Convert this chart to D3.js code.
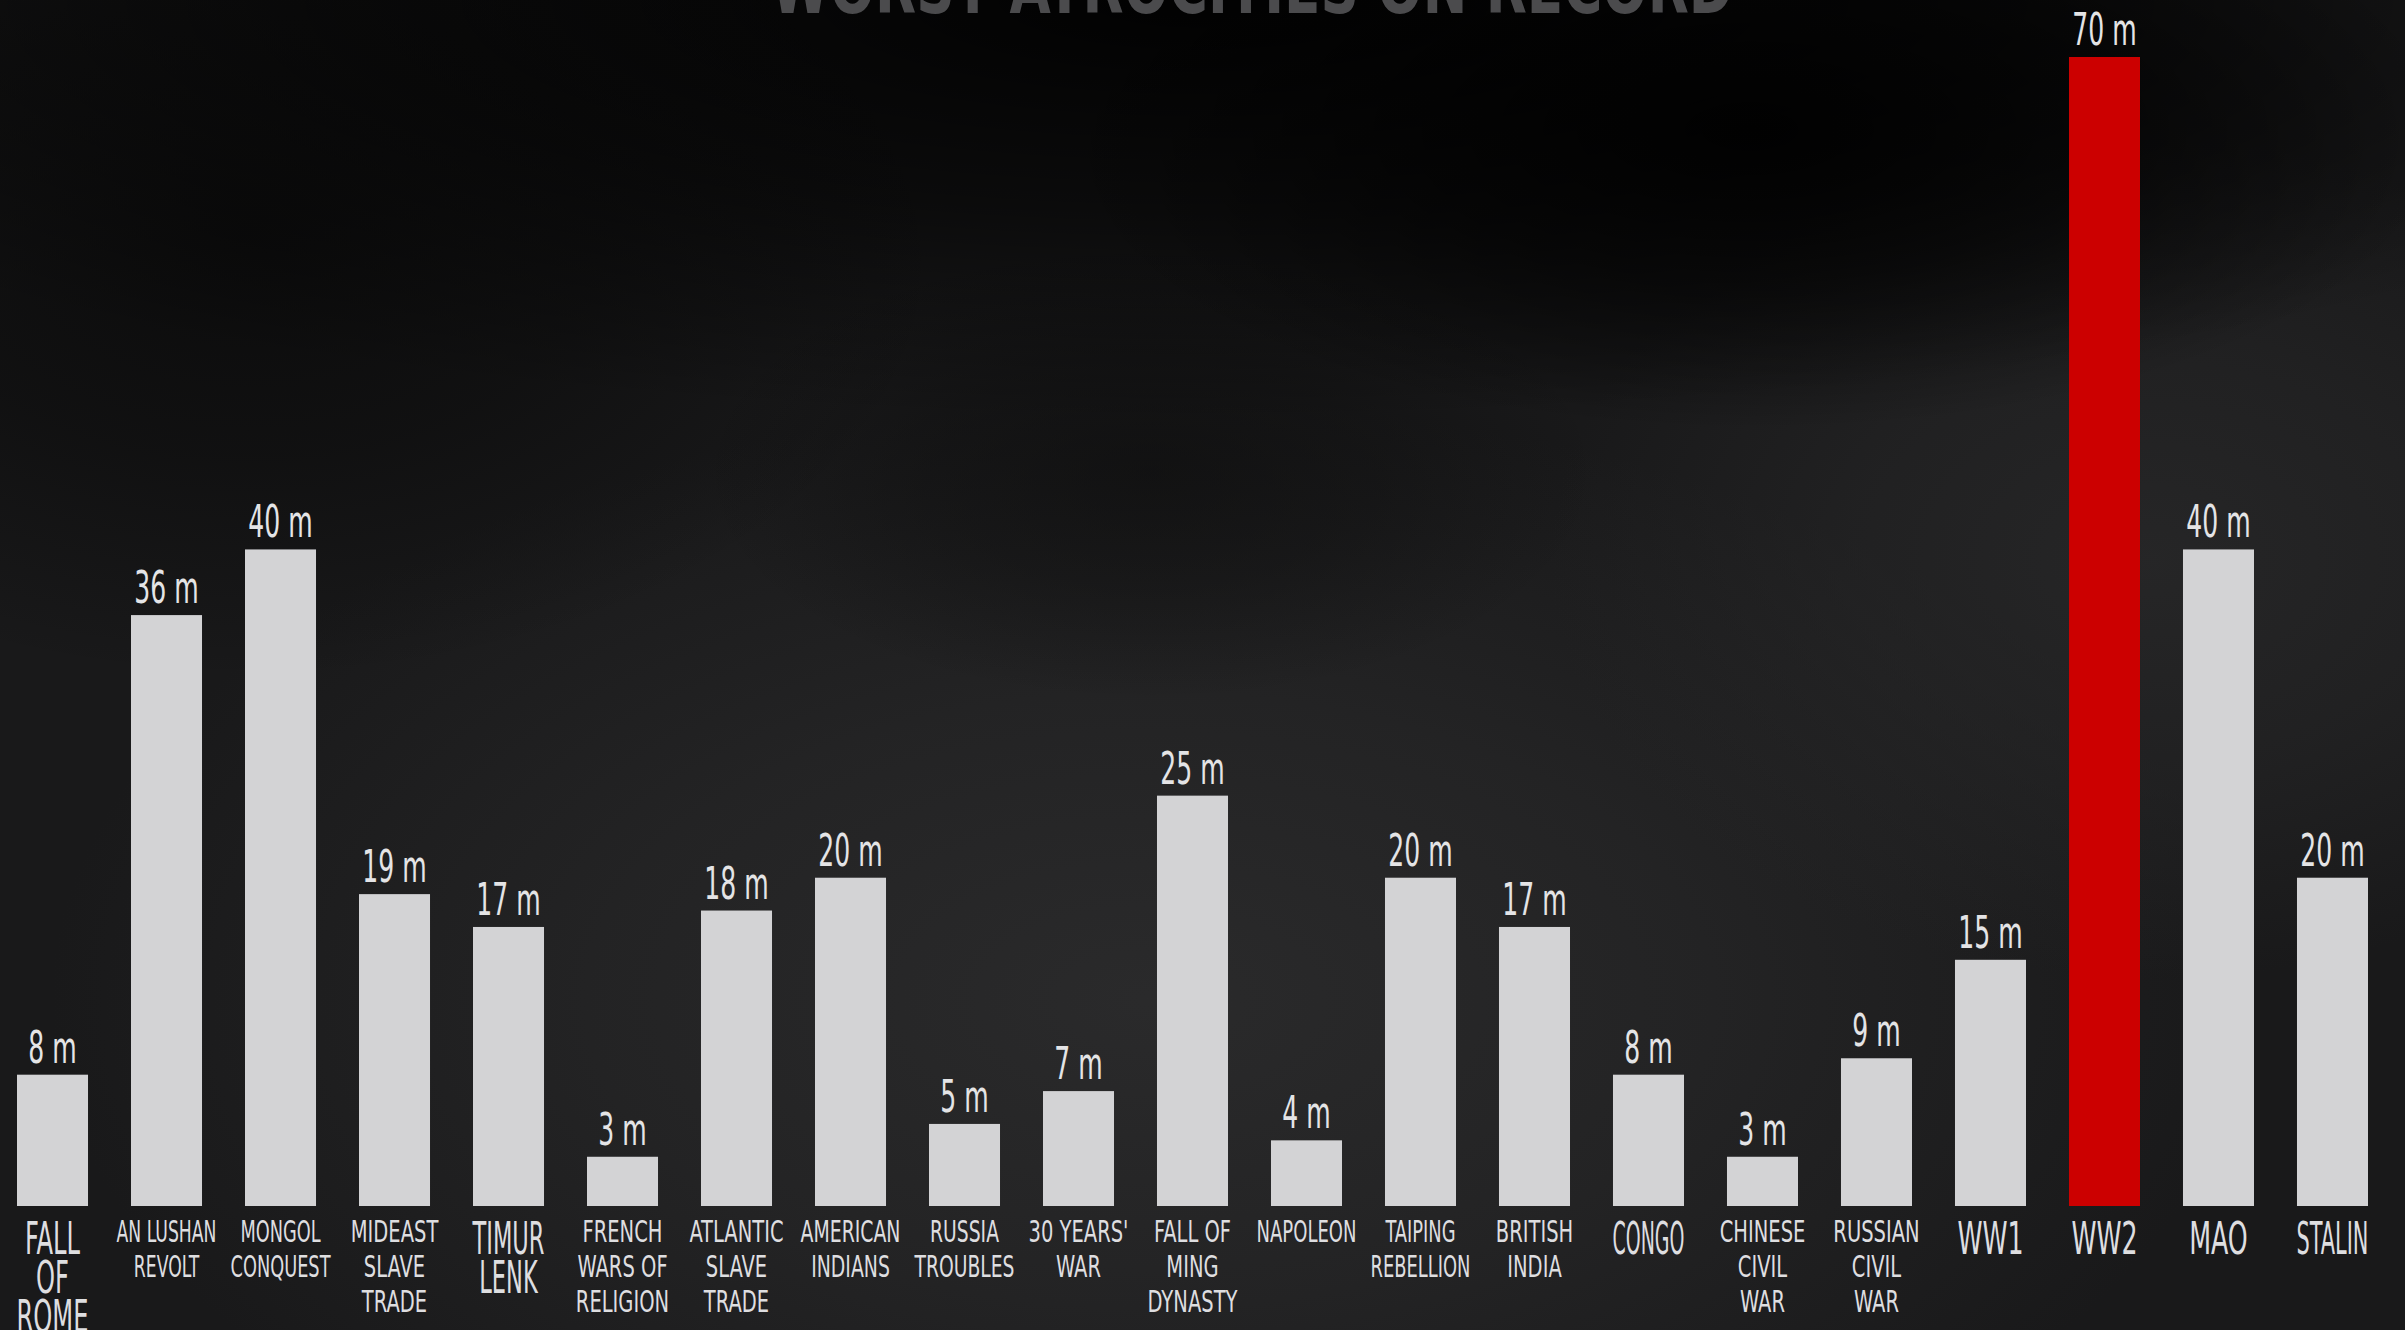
<!DOCTYPE html>
<html>
<head>
<meta charset="utf-8">
<script src="https://cdn.jsdelivr.net/npm/d3@7"></script>
<style>
  html, body { margin: 0; padding: 0; background: #050507; overflow: hidden; }
  svg { display: block; }
</style>
</head>
<body>
<div id="app"></div>
<script>
// chart data
const categories = [
    ["FALL", "OF", "ROME"],
    ["AN LUSHAN", "REVOLT"],
    ["MONGOL", "CONQUEST"],
    ["MIDEAST", "SLAVE", "TRADE"],
    ["TIMUR", "LENK"],
    ["FRENCH", "WARS OF", "RELIGION"],
    ["ATLANTIC", "SLAVE", "TRADE"],
    ["AMERICAN", "INDIANS"],
    ["RUSSIA", "TROUBLES"],
    ["30 YEARS'", "WAR"],
    ["FALL OF", "MING", "DYNASTY"],
    ["NAPOLEON"],
    ["TAIPING", "REBELLION"],
    ["BRITISH", "INDIA"],
    ["CONGO"],
    ["CHINESE", "CIVIL", "WAR"],
    ["RUSSIAN", "CIVIL", "WAR"],
    ["WW1"],
    ["WW2"],
    ["MAO"],
    ["STALIN"]
];
const deaths = [8, 36, 40, 19, 17, 3, 18, 20, 5, 7, 25, 4, 20, 17, 8, 3, 9, 15, 70, 40, 20];
const highlighted = ["WW2"];
const unitSuffix = " m";
const title = "WORST ATROCITIES ON RECORD";

function plotChart() {
    const svgWidth = 2405;
    const svgHeight = 1330;
    const fontFamily = "'DejaVu Sans Condensed', 'Liberation Sans Narrow', sans-serif";

    const svg = d3.select("#app").append("svg")
        .attr("width", svgWidth)
        .attr("height", svgHeight);

    const defs = svg.append("defs");
    let blobId = 0;

    // soft ellipse that fades out to its edge
    function blob(cx, cy, rx, ry, color, opacity) {
        const id = "blob" + (blobId++);
        const grad = defs.append("radialGradient").attr("id", id);
        grad.append("stop").attr("offset", "0%").attr("stop-color", color).attr("stop-opacity", opacity);
        grad.append("stop").attr("offset", "50%").attr("stop-color", color).attr("stop-opacity", opacity * 0.6);
        grad.append("stop").attr("offset", "100%").attr("stop-color", color).attr("stop-opacity", 0);
        svg.append("ellipse")
            .attr("cx", cx).attr("cy", cy).attr("rx", rx).attr("ry", ry)
            .attr("fill", "url(#" + id + ")");
    }

    // background: dark grey board, black towards the top
    svg.append("rect").attr("width", svgWidth).attr("height", svgHeight).attr("fill", "#19191a");
    blob(1150, 1000, 1100, 600, "#2c2c2d", 0.9);
    blob(2150, 560, 600, 420, "#29292a", 0.8);
    blob(1200, 0, 1700, 420, "#000000", 0.95);
    blob(1750, 130, 700, 300, "#000000", 0.9);
    blob(250, 230, 700, 450, "#050505", 0.7);
    blob(1150, 470, 450, 230, "#080808", 0.5);

    // title, cut off at the top edge
    svg.append("text")
        .attr("x", 1252)
        .attr("y", 13)
        .attr("text-anchor", "middle")
        .attr("font-family", fontFamily)
        .attr("font-weight", "bold")
        .attr("font-size", 74)
        .attr("fill", "#4b4b4d")
        .attr("textLength", 962)
        .attr("lengthAdjust", "spacingAndGlyphs")
        .text(title);

    const names = categories.map(d => d.join(" "));

    const xScale = d3.scaleBand()
        .domain(names)
        .range([17, 2368])
        .paddingInner(0.377)
        .paddingOuter(0);

    const yScale = d3.scaleLinear()
        .domain([0, 70])
        .range([1206, 57]);

    const chart = svg.append("g").classed("display", true);

    chart.selectAll(".bar")
        .data(deaths)
        .enter()
            .append("rect")
            .classed("bar", true)
            .attr("x", (d, i) => xScale(names[i]))
            .attr("y", d => yScale(d))
            .attr("width", xScale.bandwidth())
            .attr("height", d => yScale(0) - yScale(d))
            .attr("fill", (d, i) => highlighted.includes(names[i]) ? "#cc0000" : "#d3d3d5");

    // value labels, squeezed horizontally like the narrow display font
    chart.selectAll(".bar-label")
        .data(deaths)
        .enter()
            .append("text")
            .classed("bar-label", true)
            .attr("transform", (d, i) => "translate(" + (xScale(names[i]) + xScale.bandwidth() / 2) + "," + (yScale(d) - 12) + ") scale(0.62,1)")
            .attr("text-anchor", "middle")
            .attr("font-family", fontFamily)
            .attr("font-size", 45)
            .attr("fill", "#e4e4e6")
            .text(d => d + unitSuffix);

    // category labels under the bars; short names are set larger
    chart.selectAll(".cat")
        .data(categories)
        .enter()
            .append("text")
            .classed("cat", true)
            .attr("font-family", fontFamily)
            .attr("fill", "#dedee0")
            .attr("text-anchor", "middle")
            .each(function(lines, i) {
                const big = d3.max(lines, l => l.length) <= 6;
                const el = d3.select(this).attr("font-size", big ? 44 : 31);
                const step = big ? 39 : 35;
                const y0 = big ? 1254 : 1242;
                lines.forEach((line, j) => {
                    el.append("tspan").attr("x", 0).attr("y", y0 + j * step).text(line);
                });
                const w = d3.max(el.selectAll("tspan").nodes(), n => n.getComputedTextLength());
                const sx = Math.min(big ? 0.64 : 0.7, (big ? 72 : 100) / w);
                const cx = xScale(names[i]) + xScale.bandwidth() / 2;
                el.attr("transform", "translate(" + cx + ",0) scale(" + sx + ",1)");
            });
}

plotChart();
</script>
</body>
</html>
